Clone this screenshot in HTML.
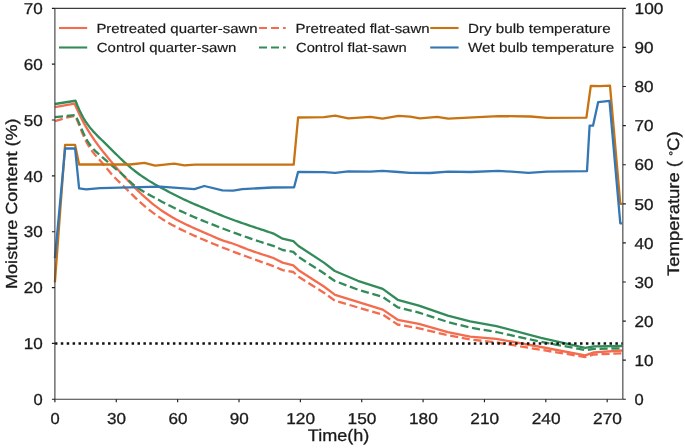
<!DOCTYPE html>
<html><head><meta charset="utf-8"><title>Drying chart</title>
<style>html,body{margin:0;padding:0;background:#fff;}svg{display:block;will-change:transform;}text{font-family:"Liberation Sans",sans-serif;fill:#1a1a1a;stroke:#1a1a1a;stroke-width:0.3px;text-rendering:geometricPrecision;}.lg text{stroke-width:0.18px;}</style></head><body>
<svg width="685" height="448" viewBox="0 0 685 448">
<rect x="0" y="0" width="685" height="448" fill="#ffffff"/>
<g fill="none" stroke-width="2.3" stroke-linejoin="round" stroke-linecap="butt">
<polyline stroke="#F36C4E" points="54.90,107.20 74.60,103.70 76.60,108.28 78.60,112.61 80.60,116.72 82.60,120.62 84.60,124.33 86.60,127.85 88.60,131.20 90.60,134.40 92.60,137.45 94.60,140.38 96.60,143.19 98.60,145.91 100.60,148.54 102.60,151.09 104.60,153.59 106.60,156.05 108.60,158.47 110.60,160.88 112.60,163.25 114.60,165.60 116.60,167.93 118.60,170.22 120.60,172.49 122.60,174.72 124.60,176.92 126.60,179.09 128.60,181.23 130.60,183.33 132.60,185.39 134.60,187.41 136.60,189.40 138.60,191.35 140.60,193.26 142.60,195.12 144.60,196.94 146.60,198.72 148.60,200.45 150.60,202.14 152.60,203.78 154.60,205.36 156.60,206.90 158.60,208.39 160.60,209.83 162.60,211.21 164.60,212.55 166.60,213.84 168.60,215.08 170.60,216.28 172.60,217.44 174.60,218.57 176.60,219.66 178.60,220.71 180.60,221.74 182.60,222.74 184.60,223.72 186.60,224.68 188.60,225.62 190.60,226.54 192.60,227.44 194.60,228.34 196.60,229.22 198.60,230.10 200.60,230.97 202.60,231.84 204.60,232.71 206.60,233.57 208.60,234.45 210.60,235.32 212.60,236.21 214.60,237.10 216.60,237.99 218.60,238.85 220.60,239.66 222.60,240.41 224.60,241.08 226.60,241.69 228.60,242.29 230.60,242.88 232.60,243.52 234.60,244.22 236.60,244.97 238.60,245.76 240.60,246.57 242.60,247.38 244.60,248.19 246.60,248.97 248.60,249.73 250.60,250.45 252.60,251.16 254.60,251.85 256.60,252.52 258.60,253.18 260.60,253.83 262.60,254.48 264.60,255.12 266.60,255.77 268.60,256.43 270.60,257.09 272.60,257.77 273.85,258.20 282.60,262.60 293.30,265.30 298.60,270.20 323.90,286.50 335.10,294.80 382.75,309.60 397.70,319.80 418.90,323.90 447.80,332.10 470.10,336.60 496.40,338.90 541.00,347.00 585.20,355.40 594.00,352.40 622.40,350.50"/>
<polyline stroke="#338B5A" points="54.90,104.00 75.50,100.75 77.50,105.78 79.50,110.30 81.50,114.36 83.50,118.00 85.50,121.28 87.50,124.23 89.50,126.91 91.50,129.36 93.50,131.64 95.50,133.78 97.50,135.83 99.50,137.82 101.50,139.76 103.50,141.69 105.50,143.63 107.50,145.59 109.50,147.58 111.50,149.57 113.50,151.57 115.50,153.56 117.50,155.54 119.50,157.49 121.50,159.42 123.50,161.31 125.50,163.15 127.50,164.93 129.50,166.66 131.50,168.33 133.50,169.95 135.50,171.51 137.50,173.01 139.50,174.47 141.50,175.89 143.50,177.26 145.50,178.58 147.50,179.87 149.50,181.12 151.50,182.33 153.50,183.52 155.50,184.67 157.50,185.80 159.50,186.90 161.50,187.99 163.50,189.05 165.50,190.10 167.50,191.14 169.50,192.17 171.50,193.19 173.50,194.20 175.50,195.21 177.50,196.22 179.50,197.21 181.50,198.20 183.50,199.17 185.50,200.12 187.50,201.06 189.50,201.97 191.50,202.86 193.50,203.72 195.50,204.57 197.50,205.41 199.50,206.25 201.50,207.08 203.50,207.92 205.50,208.76 207.50,209.60 209.50,210.45 211.50,211.29 213.50,212.14 215.50,212.98 217.50,213.81 219.50,214.63 221.50,215.44 223.50,216.23 225.50,217.01 227.50,217.78 229.50,218.53 231.50,219.27 233.50,220.00 235.50,220.72 237.50,221.43 239.50,222.14 241.50,222.83 243.50,223.52 245.50,224.20 247.50,224.88 249.50,225.55 251.50,226.22 253.50,226.89 255.50,227.55 257.50,228.22 259.50,228.88 261.50,229.54 263.50,230.21 265.50,230.88 267.50,231.54 269.50,232.22 271.50,232.90 273.50,233.58 273.85,233.70 282.60,238.70 293.30,241.20 298.50,246.00 323.90,262.60 334.80,271.00 357.80,280.80 382.75,288.85 397.70,299.80 418.90,305.70 447.80,315.70 470.10,321.30 496.40,326.10 541.00,337.80 585.20,347.90 594.00,346.40 622.40,346.00"/>
<polyline stroke="#F36C4E" stroke-dasharray="8.1 3.7" points="54.90,121.10 66.30,117.70 75.20,116.00 77.20,120.36 79.20,125.20 81.20,130.20 83.20,135.09 85.20,139.56 87.20,143.48 89.20,146.90 91.20,149.92 93.20,152.59 95.20,155.00 97.20,157.26 99.20,159.46 101.20,161.72 103.20,164.07 105.20,166.48 107.20,168.89 109.20,171.29 111.20,173.63 113.20,175.88 115.20,178.00 117.20,180.01 119.20,181.95 121.20,183.86 123.20,185.78 125.20,187.73 127.20,189.71 129.20,191.70 131.20,193.70 133.20,195.68 135.20,197.63 137.20,199.55 139.20,201.41 141.20,203.22 143.20,204.97 145.20,206.66 147.20,208.30 149.20,209.89 151.20,211.42 153.20,212.91 155.20,214.35 157.20,215.74 159.20,217.09 161.20,218.40 163.20,219.66 165.20,220.90 167.20,222.09 169.20,223.25 171.20,224.38 173.20,225.48 175.20,226.55 177.20,227.59 179.20,228.61 181.20,229.60 183.20,230.58 185.20,231.53 187.20,232.47 189.20,233.40 191.20,234.31 193.20,235.20 195.20,236.09 197.20,236.97 199.20,237.84 201.20,238.71 203.20,239.56 205.20,240.41 207.20,241.25 209.20,242.08 211.20,242.90 213.20,243.72 215.20,244.53 217.20,245.33 219.20,246.13 221.20,246.92 223.20,247.71 225.20,248.49 227.20,249.26 229.20,250.03 231.20,250.80 233.20,251.56 235.20,252.31 237.20,253.06 239.20,253.81 241.20,254.55 243.20,255.29 245.20,256.02 247.20,256.75 249.20,257.48 251.20,258.21 253.20,258.93 255.20,259.65 257.20,260.37 259.20,261.09 261.20,261.80 263.20,262.52 265.20,263.23 267.20,263.94 269.20,264.65 271.20,265.36 273.20,266.07 273.85,266.30 282.60,270.10 293.30,272.00 298.60,276.80 323.90,292.70 335.05,300.80 382.75,314.60 397.60,324.50 418.90,328.30 447.80,335.20 470.10,339.50 496.40,342.40 541.00,349.80 585.20,357.00 594.00,354.50 622.40,353.30"/>
<polyline stroke="#338B5A" stroke-dasharray="8.1 3.7" points="54.90,117.20 75.40,115.10 77.40,119.37 79.40,123.90 81.40,128.51 83.40,133.00 85.40,137.18 87.40,140.87 89.40,144.03 91.40,146.73 93.40,149.06 95.40,151.11 97.40,152.95 99.40,154.67 101.40,156.35 103.40,158.08 105.40,159.85 107.40,161.65 109.40,163.44 111.40,165.19 113.40,166.89 115.40,168.53 117.40,170.15 119.40,171.79 121.40,173.49 123.40,175.28 125.40,177.18 127.40,179.12 129.40,181.04 131.40,182.90 133.40,184.64 135.40,186.23 137.40,187.69 139.40,189.04 141.40,190.30 143.40,191.50 145.40,192.65 147.40,193.77 149.40,194.88 151.40,195.98 153.40,197.08 155.40,198.17 157.40,199.25 159.40,200.32 161.40,201.39 163.40,202.44 165.40,203.49 167.40,204.52 169.40,205.54 171.40,206.55 173.40,207.55 175.40,208.53 177.40,209.50 179.40,210.46 181.40,211.39 183.40,212.32 185.40,213.23 187.40,214.13 189.40,215.01 191.40,215.89 193.40,216.75 195.40,217.60 197.40,218.44 199.40,219.27 201.40,220.10 203.40,220.91 205.40,221.72 207.40,222.53 209.40,223.32 211.40,224.12 213.40,224.90 215.40,225.68 217.40,226.46 219.40,227.23 221.40,227.99 223.40,228.75 225.40,229.50 227.40,230.25 229.40,231.00 231.40,231.73 233.40,232.46 235.40,233.19 237.40,233.91 239.40,234.63 241.40,235.34 243.40,236.04 245.40,236.74 247.40,237.44 249.40,238.12 251.40,238.81 253.40,239.49 255.40,240.16 257.40,240.82 259.40,241.49 261.40,242.14 263.40,242.79 265.40,243.44 267.40,244.08 269.40,244.71 271.40,245.34 273.40,245.96 273.85,246.10 282.60,250.00 293.30,251.90 298.50,256.90 323.90,273.30 334.80,281.00 357.80,289.60 382.75,297.00 397.70,307.30 418.90,312.60 447.80,322.00 470.10,327.60 496.40,332.00 541.00,341.80 585.20,350.10 594.00,348.90 622.40,348.25"/>
<polyline stroke="#C87312" points="54.90,282.30 65.10,144.90 75.10,144.90 79.10,164.50 130.00,164.50 144.40,162.80 155.20,165.60 174.20,163.70 184.40,165.30 195.00,164.55 293.70,164.60 298.10,117.50 324.20,117.10 335.20,115.70 348.30,118.30 370.40,116.90 382.50,118.70 398.50,115.90 410.00,116.70 420.00,118.30 437.10,116.90 448.20,118.70 498.40,116.10 530.50,116.50 547.00,117.90 586.40,117.60 590.80,85.80 600.00,86.10 610.00,85.70 620.30,203.80 622.30,203.80"/>
<polyline stroke="#3577B4" points="54.90,258.20 65.10,148.50 75.10,148.50 79.10,188.30 86.20,189.30 100.00,188.20 160.30,186.60 194.40,189.20 204.30,186.00 222.40,190.30 233.20,190.70 242.30,189.10 272.40,187.50 294.10,187.30 298.10,171.90 324.00,172.20 335.20,172.80 348.30,171.40 370.40,171.60 382.50,170.80 398.50,172.00 410.00,172.80 430.10,173.00 448.20,171.60 470.30,172.00 498.40,170.80 528.50,172.80 547.00,171.60 587.00,171.10 589.60,125.70 593.00,125.70 598.20,102.10 609.50,100.90 620.30,223.30 622.00,223.30"/>
</g>
<line x1="54.9" y1="343.41" x2="622.85" y2="343.41" stroke="#111" stroke-width="2.5" stroke-dasharray="2.5 3.4"/>
<g stroke="#3c3c3c" stroke-width="1.1" fill="none">
<path d="M54.9,8.35 H622.85 M54.9,399.25 H622.85 M54.9,8.35 V399.25 M622.85,8.35 V399.25"/>
<path stroke="#1c1c1c" stroke-width="1.15" d="M54.90,399.25 v3 M116.27,399.25 v3 M177.63,399.25 v3 M239.00,399.25 v3 M300.36,399.25 v3 M361.72,399.25 v3 M423.09,399.25 v3 M484.45,399.25 v3 M545.82,399.25 v3 M607.19,399.25 v3 M54.9,399.25 h-3 M54.9,343.41 h-3 M54.9,287.56 h-3 M54.9,231.72 h-3 M54.9,175.88 h-3 M54.9,120.04 h-3 M54.9,64.19 h-3 M54.9,8.35 h-3 M622.85,399.25 h3 M622.85,360.16 h3 M622.85,321.07 h3 M622.85,281.98 h3 M622.85,242.89 h3 M622.85,203.80 h3 M622.85,164.71 h3 M622.85,125.62 h3 M622.85,86.53 h3 M622.85,47.44 h3 M622.85,8.35 h3"/>
</g>
<g>
<text x="55.20" y="423.5" font-size="15.8" text-anchor="middle" textLength="9.2" lengthAdjust="spacingAndGlyphs" >0</text>
<text x="116.56" y="423.5" font-size="15.8" text-anchor="middle" textLength="19.0" lengthAdjust="spacingAndGlyphs" >30</text>
<text x="177.93" y="423.5" font-size="15.8" text-anchor="middle" textLength="19.0" lengthAdjust="spacingAndGlyphs" >60</text>
<text x="239.30" y="423.5" font-size="15.8" text-anchor="middle" textLength="19.0" lengthAdjust="spacingAndGlyphs" >90</text>
<text x="300.66" y="423.5" font-size="15.8" text-anchor="middle" textLength="28.8" lengthAdjust="spacingAndGlyphs" >120</text>
<text x="362.02" y="423.5" font-size="15.8" text-anchor="middle" textLength="28.8" lengthAdjust="spacingAndGlyphs" >150</text>
<text x="423.39" y="423.5" font-size="15.8" text-anchor="middle" textLength="28.8" lengthAdjust="spacingAndGlyphs" >180</text>
<text x="484.75" y="423.5" font-size="15.8" text-anchor="middle" textLength="28.8" lengthAdjust="spacingAndGlyphs" >210</text>
<text x="546.12" y="423.5" font-size="15.8" text-anchor="middle" textLength="28.8" lengthAdjust="spacingAndGlyphs" >240</text>
<text x="607.49" y="423.5" font-size="15.8" text-anchor="middle" textLength="28.8" lengthAdjust="spacingAndGlyphs" >270</text>
<text x="42.8" y="404.95" font-size="15.8" text-anchor="end" textLength="9.2" lengthAdjust="spacingAndGlyphs" >0</text>
<text x="42.8" y="349.11" font-size="15.8" text-anchor="end" textLength="19.0" lengthAdjust="spacingAndGlyphs" >10</text>
<text x="42.8" y="293.26" font-size="15.8" text-anchor="end" textLength="19.0" lengthAdjust="spacingAndGlyphs" >20</text>
<text x="42.8" y="237.42" font-size="15.8" text-anchor="end" textLength="19.0" lengthAdjust="spacingAndGlyphs" >30</text>
<text x="42.8" y="181.58" font-size="15.8" text-anchor="end" textLength="19.0" lengthAdjust="spacingAndGlyphs" >40</text>
<text x="42.8" y="125.74" font-size="15.8" text-anchor="end" textLength="19.0" lengthAdjust="spacingAndGlyphs" >50</text>
<text x="42.8" y="69.89" font-size="15.8" text-anchor="end" textLength="19.0" lengthAdjust="spacingAndGlyphs" >60</text>
<text x="42.8" y="14.05" font-size="15.8" text-anchor="end" textLength="19.0" lengthAdjust="spacingAndGlyphs" >70</text>
<text x="634.6" y="404.95" font-size="15.8" text-anchor="start" textLength="9.2" lengthAdjust="spacingAndGlyphs" >0</text>
<text x="634.6" y="365.86" font-size="15.8" text-anchor="start" textLength="19.0" lengthAdjust="spacingAndGlyphs" >10</text>
<text x="634.6" y="326.77" font-size="15.8" text-anchor="start" textLength="19.0" lengthAdjust="spacingAndGlyphs" >20</text>
<text x="634.6" y="287.68" font-size="15.8" text-anchor="start" textLength="19.0" lengthAdjust="spacingAndGlyphs" >30</text>
<text x="634.6" y="248.59" font-size="15.8" text-anchor="start" textLength="19.0" lengthAdjust="spacingAndGlyphs" >40</text>
<text x="634.6" y="209.50" font-size="15.8" text-anchor="start" textLength="19.0" lengthAdjust="spacingAndGlyphs" >50</text>
<text x="634.6" y="170.41" font-size="15.8" text-anchor="start" textLength="19.0" lengthAdjust="spacingAndGlyphs" >60</text>
<text x="634.6" y="131.32" font-size="15.8" text-anchor="start" textLength="19.0" lengthAdjust="spacingAndGlyphs" >70</text>
<text x="634.6" y="92.23" font-size="15.8" text-anchor="start" textLength="19.0" lengthAdjust="spacingAndGlyphs" >80</text>
<text x="634.6" y="53.14" font-size="15.8" text-anchor="start" textLength="19.0" lengthAdjust="spacingAndGlyphs" >90</text>
<text x="634.6" y="14.05" font-size="15.8" text-anchor="start" textLength="28.8" lengthAdjust="spacingAndGlyphs" >100</text>
</g>
<text x="338.6" y="440.5" font-size="16.6" text-anchor="middle" textLength="61.5" lengthAdjust="spacingAndGlyphs" >Time(h)</text>
<g transform="translate(16.8,203.7) rotate(-90)"><text x="0" y="0" font-size="16.0" text-anchor="middle" textLength="170.5" lengthAdjust="spacingAndGlyphs" >Moisture Content (%)</text></g>
<g transform="translate(678.6,203.7) rotate(-90)"><text x="0" y="0" font-size="16.6" text-anchor="middle" textLength="144.5" lengthAdjust="spacingAndGlyphs">Temperature ( <tspan font-size="11" dy="-1.2">&#176;</tspan><tspan dy="1.2">C)</tspan></text></g>
<g stroke-width="2.1" fill="none">
<line x1="59" y1="28" x2="87.2" y2="28" stroke="#F36C4E"/>
<line x1="59" y1="47.5" x2="87.2" y2="47.5" stroke="#338B5A"/>
<line x1="259" y1="28" x2="285.7" y2="28" stroke="#F36C4E" stroke-dasharray="8 4"/>
<line x1="259" y1="47.5" x2="285.7" y2="47.5" stroke="#338B5A" stroke-dasharray="8 4"/>
<line x1="430.2" y1="28" x2="458.6" y2="28" stroke="#C87312"/>
<line x1="430.2" y1="47.5" x2="458.6" y2="47.5" stroke="#3577B4"/>
</g>
<g class="lg">
<text x="96.4" y="32.6" font-size="13.2" text-anchor="start" textLength="161.2" lengthAdjust="spacingAndGlyphs" >Pretreated quarter-sawn</text>
<text x="96.8" y="52.2" font-size="13.2" text-anchor="start" textLength="139.6" lengthAdjust="spacingAndGlyphs" >Control quarter-sawn</text>
<text x="295.6" y="32.6" font-size="13.2" text-anchor="start" textLength="134.0" lengthAdjust="spacingAndGlyphs" >Pretreated flat-sawn</text>
<text x="296.0" y="52.2" font-size="13.2" text-anchor="start" textLength="110.6" lengthAdjust="spacingAndGlyphs" >Control flat-sawn</text>
<text x="468.0" y="32.6" font-size="13.2" text-anchor="start" textLength="142.6" lengthAdjust="spacingAndGlyphs" >Dry bulb temperature</text>
<text x="468.0" y="52.2" font-size="13.2" text-anchor="start" textLength="146.2" lengthAdjust="spacingAndGlyphs" >Wet bulb temperature</text>
</g>
</svg></body></html>
